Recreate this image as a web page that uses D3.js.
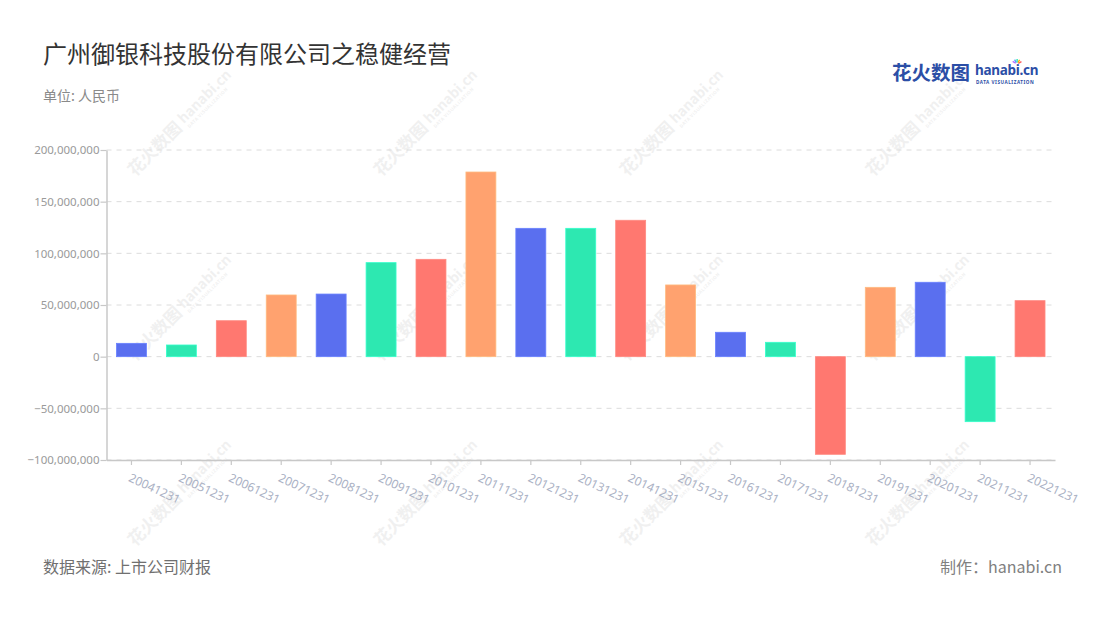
<!DOCTYPE html>
<html>
<head>
<meta charset="utf-8">
<script src="https://cdn.jsdelivr.net/npm/d3@7"></script>
<style>
  html, body { margin: 0; padding: 0; background: #fff; }
  svg { display: block; font-family: "Noto Sans CJK SC", "Noto Sans", sans-serif; }
</style>
</head>
<body>
<svg id="chart" width="1100" height="620"></svg>
<script>
const categories = ["20041231","20051231","20061231","20071231","20081231","20091231","20101231","20111231","20121231","20131231","20141231","20151231","20161231","20171231","20181231","20191231","20201231","20211231","20221231"];
const values = [12900000, 11300000, 34800000, 59700000, 60600000, 91000000, 94200000, 178700000, 124200000, 124200000, 132000000, 69400000, 23600000, 13900000, -94500000, 67100000, 72000000, -62900000, 54200000];
const yTicks = [-100000000, -50000000, 0, 50000000, 100000000, 150000000, 200000000];
const palette = ["#5a6fef", "#2de8b1", "#ff7870", "#ffa26f"];
const title = "广州御银科技股份有限公司之稳健经营";
const unitText = "单位: 人民币";
const sourceText = "数据来源: 上市公司财报";
const creditText = "制作：hanabi.cn";

const svg = d3.select("#chart");
const plotLeft = 106.5, plotRight = 1055, plotTop = 150, plotBottom = 460;
const latin = "\"Noto Sans\", \"Noto Sans CJK SC\", sans-serif";

const x = d3.scaleBand().domain(categories).range([plotLeft, plotRight]).paddingInner(0.4).paddingOuter(0.2);
const y = d3.scaleLinear().domain([-100000000, 200000000]).range([plotBottom, plotTop]);

// Title & subtitle
svg.append("text").attr("x", 43).attr("y", 63).attr("font-size", 24).attr("fill", "#333").text(title);
svg.append("text").attr("x", 43).attr("y", 101).attr("font-size", 14).attr("fill", "#8a8a8a").text(unitText);

// Watermarks
const wmCols = [135, 381, 627, 873];
const wmRows = [177, 362, 547];
const wm = svg.append("g").attr("pointer-events", "none");
function drawWatermarks() {
  wmRows.forEach(ry => wmCols.forEach(cx => {
    const g = wm.append("g").attr("transform", `translate(${cx},${ry}) rotate(-45)`).attr("opacity", 0.3);
    g.append("text").attr("x", 0).attr("y", 0).attr("font-size", 17).attr("font-weight", 700).attr("fill", "#cfcfcf").text("花火数图");
    g.append("text").attr("x", 72).attr("y", -3).attr("font-size", 14).attr("font-weight", 700).attr("fill", "#cfcfcf").text("hanabi.cn");
    g.append("text").attr("x", 73).attr("y", 4).attr("font-size", 4.5).attr("font-weight", 700).attr("fill", "#cfcfcf").attr("letter-spacing", 0.5).text("DATA VISUALIZATION");
  }));
}

// Logo
const logo = svg.append("g");
logo.append("text").attr("x", 892).attr("y", 80).attr("font-size", 19.5).attr("font-weight", 700).attr("fill", "#2b4ea6").text("花火数图");
logo.append("text").attr("x", 975).attr("y", 75).attr("font-size", 13.5).attr("font-weight", 700).attr("fill", "#2b4ea6")
  .attr("font-family", latin).attr("letter-spacing", -0.3).text("hanabi.cn");
logo.append("text").attr("x", 976).attr("y", 84).attr("font-size", 4.6).attr("font-weight", 700).attr("fill", "#2b4ea6")
  .attr("font-family", latin).attr("letter-spacing", 0.55).text("DATA VISUALIZATION");
const sparkColors = ["#ff5a5a", "#ffb400", "#2de8b1", "#4fa3ff", "#b36bff"];
sparkColors.forEach((c, i) => {
  const a = -Math.PI * (0.15 + i * 0.17);
  logo.append("line").attr("x1", 1017 + Math.cos(a) * 1.5).attr("y1", 64 + Math.sin(a) * 1.5)
    .attr("x2", 1017 + Math.cos(a) * 5).attr("y2", 64 + Math.sin(a) * 5)
    .attr("stroke", c).attr("stroke-width", 1.4);
});

// Gridlines
svg.append("g").selectAll("line").data(yTicks).join("line")
  .attr("x1", plotLeft).attr("x2", plotRight)
  .attr("y1", d => y(d)).attr("y2", d => y(d))
  .attr("stroke", "#dcdcdc").attr("stroke-dasharray", "5,5").attr("stroke-width", 1);

// Bars
svg.append("g").selectAll("rect").data(values).join("rect")
  .attr("x", (d, i) => x(categories[i]))
  .attr("width", x.bandwidth())
  .attr("y", d => y(Math.max(0, d)))
  .attr("height", d => Math.abs(y(d) - y(0)))
  .attr("fill", (d, i) => palette[i % palette.length])
  .attr("stroke", (d, i) => d3.color(palette[i % palette.length]).brighter(0.4))
  .attr("stroke-width", 0.8);

// Y axis
const yAxis = svg.append("g").attr("transform", `translate(${plotLeft},0)`)
  .call(d3.axisLeft(y).tickValues(yTicks).tickFormat(d3.format(",")).tickSize(6).tickSizeOuter(0));
yAxis.select(".domain").attr("stroke", "#c8c8c8").attr("stroke-width", 1.5);
yAxis.selectAll(".tick line").attr("stroke", "#c8c8c8").attr("stroke-width", 1.2);
yAxis.selectAll(".tick text").attr("fill", "#9a9a9a").attr("font-size", 11.5)
  .attr("font-family", latin).attr("x", -7);

// X axis
const xAxis = svg.append("g").attr("transform", `translate(0,${plotBottom})`)
  .call(d3.axisBottom(x).tickSize(5).tickSizeOuter(0));
xAxis.select(".domain").attr("stroke", "#c8c8c8").attr("stroke-width", 1.5);
xAxis.selectAll(".tick line").attr("stroke", "#c8c8c8").attr("stroke-width", 1.2);
xAxis.selectAll(".tick text").attr("fill", "#aab1c4").attr("font-size", 12)
  .attr("font-family", latin)
  .attr("text-anchor", "start").attr("x", 0).attr("y", 0).attr("dy", "0.71em")
  .attr("transform", "translate(0,13) rotate(25)");

drawWatermarks();

// Footer
svg.append("text").attr("x", 43).attr("y", 573).attr("font-size", 16).attr("fill", "#707070").text(sourceText);
svg.append("text").attr("x", 1062).attr("y", 573).attr("font-size", 16).attr("fill", "#808080").attr("text-anchor", "end").text(creditText);
</script>
</body>
</html>
